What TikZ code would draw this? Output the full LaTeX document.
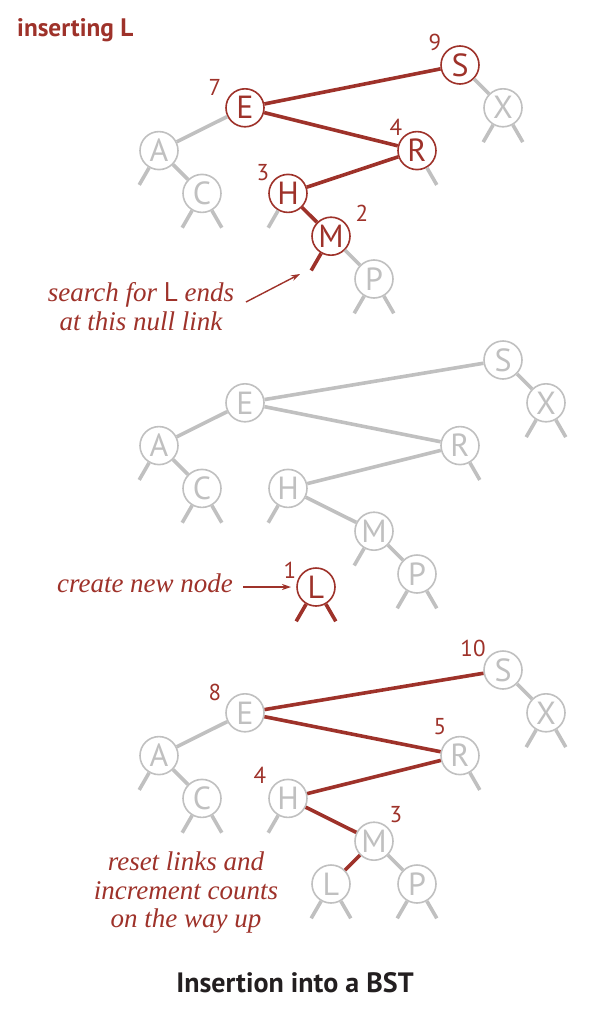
\documentclass[tikz,border=0pt]{standalone}
\usepackage{fontspec}
\setmainfont{Liberation Serif}
\setsansfont{PT Sans}
\usetikzlibrary{arrows.meta,calc}
\definecolor{bred}{RGB}{158,50,42}
\definecolor{bgray}{RGB}{192,192,192}
\definecolor{cap}{RGB}{35,31,32}
\newcommand\nulllink[3]{\draw[#3] (#1.#2) -- ($(#1.center)!2!(#1.#2)$);}
\begin{document}
\begin{tikzpicture}[x=1pt,y=-1pt,
 nd/.style={circle,draw=bgray,line width=1.6pt,fill=white,minimum size=38pt,inner sep=0pt,text=bgray,font=\sffamily\fontsize{32}{32}\selectfont},
 rnd/.style={nd,draw=bred,text=bred},
 lk/.style={draw=bgray,line width=3.6pt},
 rlk/.style={lk,draw=bred},
 cnt/.style={text=bred,font=\sffamily\fontsize{23}{23}\selectfont,inner sep=0pt},
 note/.style={text=bred,font=\itshape\fontsize{27}{29}\selectfont,align=center,inner sep=0pt},
 arr/.style={draw=bred,line width=1.4pt,-{Stealth[length=9pt,width=6pt]}},
]
\useasboundingbox (0,0) rectangle (600,1022);
\node[anchor=west,text=bred,font=\sffamily\bfseries\fontsize{25.3}{25}\selectfont,inner sep=0pt] (title) at (17,30) {inserting L};
% ---------- top tree
\node[rnd] (tS) at (460,65) {S};
\node[nd] (tX) at (503,107.8) {X};
\node[rnd] (tE) at (245,107.8) {E};
\node[nd] (tA) at (159,150.6) {A};
\node[rnd] (tR) at (417,150.6) {R};
\node[nd] (tC) at (202,193.4) {C};
\node[rnd] (tH) at (288,193.4) {H};
\node[rnd] (tM) at (331,236.2) {M};
\node[nd] (tP) at (374,279) {P};
\draw[rlk] (tS)--(tE); \draw[lk] (tS)--(tX);
\draw[lk] (tE)--(tA); \draw[rlk] (tE)--(tR);
\draw[lk] (tA)--(tC); \draw[rlk] (tR)--(tH);
\draw[rlk] (tH)--(tM); \draw[lk] (tM)--(tP);
\nulllink{tA}{-120}{lk}
\nulllink{tC}{-120}{lk}\nulllink{tC}{-60}{lk}
\nulllink{tH}{-120}{lk}
\nulllink{tM}{-120}{rlk}
\nulllink{tR}{-60}{lk}
\nulllink{tX}{-120}{lk}\nulllink{tX}{-60}{lk}
\nulllink{tP}{-120}{lk}\nulllink{tP}{-60}{lk}
\node[cnt] (c9) at (435,42) {9};
\node[cnt] (c7) at (215,87) {7};
\node[cnt] (c4) at (396,127) {4};
\node[cnt] (c3) at (263,173) {3};
\node[cnt] (c2) at (362,213) {2};
\node[note] (n1) at (141,307) {search for {\upshape\sffamily L} ends\\at this null link};
\coordinate (a1s) at (246,302);
\coordinate (a1e) at (300,274);
\draw[arr] (a1s) -- (a1e);
% ---------- middle tree
\node[nd] (mS) at (503,360) {S};
\node[nd] (mX) at (546,402.8) {X};
\node[nd] (mE) at (245,402.8) {E};
\node[nd] (mA) at (159,445.6) {A};
\node[nd] (mR) at (460,445.6) {R};
\node[nd] (mC) at (202,488.4) {C};
\node[nd] (mH) at (288,488.4) {H};
\node[nd] (mM) at (374,531.2) {M};
\node[nd] (mP) at (417,574) {P};
\node[rnd] (mL) at (316,587) {L};
\draw[lk] (mS)--(mE); \draw[lk] (mS)--(mX);
\draw[lk] (mE)--(mA); \draw[lk] (mE)--(mR);
\draw[lk] (mA)--(mC); \draw[lk] (mR)--(mH);
\draw[lk] (mH)--(mM); \draw[lk] (mM)--(mP);
\nulllink{mA}{-120}{lk}
\nulllink{mC}{-120}{lk}\nulllink{mC}{-60}{lk}
\nulllink{mH}{-120}{lk}
\nulllink{mM}{-120}{lk}
\nulllink{mR}{-60}{lk}
\nulllink{mX}{-120}{lk}\nulllink{mX}{-60}{lk}
\nulllink{mP}{-120}{lk}\nulllink{mP}{-60}{lk}
\nulllink{mL}{-120}{rlk}\nulllink{mL}{-60}{rlk}
\node[cnt] (c1) at (290,570) {1};
\node[note] (n2) at (145,583) {create new node};
\coordinate (a2s) at (243,587);
\coordinate (a2e) at (291,587);
\draw[arr] (a2s) -- (a2e);
% ---------- bottom tree
\node[nd] (bS) at (503,670) {S};
\node[nd] (bX) at (546,712.8) {X};
\node[nd] (bE) at (245,712.8) {E};
\node[nd] (bA) at (159,755.6) {A};
\node[nd] (bR) at (460,755.6) {R};
\node[nd] (bC) at (202,798.4) {C};
\node[nd] (bH) at (288,798.4) {H};
\node[nd] (bM) at (374,841.2) {M};
\node[nd] (bL) at (331,884) {L};
\node[nd] (bP) at (417,884) {P};
\draw[rlk] (bS)--(bE); \draw[lk] (bS)--(bX);
\draw[lk] (bE)--(bA); \draw[rlk] (bE)--(bR);
\draw[lk] (bA)--(bC); \draw[rlk] (bR)--(bH);
\draw[rlk] (bH)--(bM); \draw[lk] (bM)--(bP);
\draw[rlk] (bM)--(bL);
\nulllink{bA}{-120}{lk}
\nulllink{bC}{-120}{lk}\nulllink{bC}{-60}{lk}
\nulllink{bH}{-120}{lk}
\nulllink{bR}{-60}{lk}
\nulllink{bX}{-120}{lk}\nulllink{bX}{-60}{lk}
\nulllink{bP}{-120}{lk}\nulllink{bP}{-60}{lk}
\nulllink{bL}{-120}{lk}\nulllink{bL}{-60}{lk}
\node[cnt] (c10) at (473,648) {10};
\node[cnt] (c8) at (215,692) {8};
\node[cnt] (c5) at (440,727) {5};
\node[cnt] (c4b) at (260,775) {4};
\node[cnt] (c3b) at (396,815) {3};
\node[note,font=\itshape\fontsize{27}{28.5}\selectfont] (n3) at (186,893) {reset links and\\increment counts\\on the way up};
\node[text=cap,font=\sffamily\bfseries\fontsize{28}{28}\selectfont,inner sep=0pt] (capt) at (295,983) {Insertion into a BST};
\end{tikzpicture}
\end{document}
